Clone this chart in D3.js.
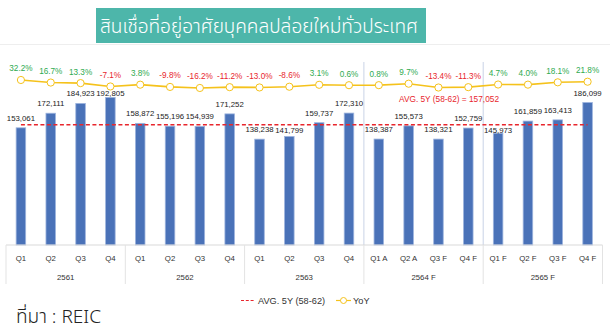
<!DOCTYPE html>
<html>
<head>
<meta charset="utf-8">
<script src="https://cdn.jsdelivr.net/npm/d3@7/dist/d3.min.js"></script>
<style>
  html, body { margin: 0; padding: 0; background: #fff; }
  svg { display: block; }
</style>
</head>
<body>
<svg id="chart" width="610" height="336"></svg>
<script>
// Quarterly new housing loans (million baht) and year-on-year growth
const quarters = ["Q1","Q2","Q3","Q4","Q1","Q2","Q3","Q4","Q1","Q2","Q3","Q4",
                  "Q1 A","Q2 A","Q3 F","Q4 F","Q1 F","Q2 F","Q3 F","Q4 F"];
const years = ["2561","2562","2563","2564 F","2565 F"];
const loans = [153061,172111,184923,192805,158872,155196,154939,171252,138238,141799,
               159737,172310,138387,155573,138321,152759,145973,161859,163413,186099];
const yoy = [32.2,16.7,13.3,-7.1,3.8,-9.8,-16.2,-11.2,-13.0,-8.6,
             3.1,0.6,0.8,9.7,-13.4,-11.3,4.7,4.0,18.1,21.8];
const avg5y = 157052;
const titleText = "สินเชื่อที่อยู่อาศัยบุคคลปล่อยใหม่ทั่วประเทศ";
const avgLabel = "AVG. 5Y (58-62)";
const sourceText = "ที่มา : REIC";

const W = 610, H = 336;
const svg = d3.select("#chart");
const numFont = "'Liberation Sans', Arial, sans-serif";
const thaiFont = "'Noto Sans Thai', 'Noto Sans', 'Open Sans', sans-serif";

const idx = d3.range(loans.length);
const x = d3.scaleBand().domain(idx).range([6, 602.5]).paddingInner(0.68).paddingOuter(0.34);
const cx = i => x(i) + x.bandwidth() / 2;
const y = d3.scaleLinear().domain([0, 250000]).range([245, 53.6]);
const yY = d3.scaleLinear().domain([-20, 40]).range([88.6, 78.7]);

// Title banner
svg.append("line").attr("x1", 0).attr("x2", W).attr("y1", 44.5).attr("y2", 44.5)
  .attr("stroke", "#eeeeee").attr("stroke-width", 1);
svg.append("rect").attr("x", 96).attr("y", 8).attr("width", 330).attr("height", 35)
  .attr("fill", "#4db6aa");
const title = svg.append("text").attr("x", 259).attr("y", 27).attr("text-anchor", "middle")
  .attr("dominant-baseline", "central")
  .attr("font-family", thaiFont).attr("font-size", 20).attr("font-weight", 300)
  .attr("fill", "#fff")
  .text(titleText);
// shrink the heading so it fits inside the banner
const tw = title.node().getComputedTextLength();
title.attr("font-size", 20 * 318 / tw);

// Group boundaries for the forecast years
const step = x.step();
const groupEdge = g => x.range()[0] + g * 4 * step;
[3, 4].forEach(g => {
  svg.append("line").attr("x1", groupEdge(g)).attr("x2", groupEdge(g))
    .attr("y1", 62).attr("y2", 245).attr("stroke", "#c9d3e6").attr("stroke-width", 1);
});

// Bars
svg.append("g").selectAll("rect").data(loans).join("rect")
  .attr("x", (d, i) => x(i)).attr("width", x.bandwidth())
  .attr("y", d => y(d)).attr("height", d => y(0) - y(d))
  .attr("fill", "#4a72b8").attr("stroke", "#9db4de").attr("stroke-width", 0.8);

// Bar value labels: sit above the bar, kept clear of the YoY row and the average line
const avgY = y(avg5y);
function labelY(d) {
  let ly = Math.max(y(d) - 9.5, 93.5);
  if (Math.abs(ly - avgY) < 4.5) ly = avgY + 5.5;
  return ly;
}
svg.append("g").selectAll("text").data(loans).join("text")
  .attr("x", (d, i) => cx(i)).attr("y", labelY)
  .attr("text-anchor", "middle").attr("dominant-baseline", "central")
  .attr("font-family", numFont).attr("font-size", 7.8).attr("fill", "#222")
  .text(d => d3.format(",")(d));

// 5-year average reference line
svg.append("line").attr("x1", cx(0)).attr("x2", cx(loans.length - 1))
  .attr("y1", avgY).attr("y2", avgY)
  .attr("stroke", "#e8262d").attr("stroke-width", 1.3).attr("stroke-dasharray", "4,2.5");
svg.append("text").attr("x", 449).attr("y", 98.5).attr("text-anchor", "middle")
  .attr("dominant-baseline", "central")
  .attr("font-family", numFont).attr("font-size", 8.3).attr("fill", "#e8262d")
  .text(`${avgLabel} =  ${d3.format(",")(avg5y)}`);

// YoY line with markers
const line = d3.line().x((d, i) => cx(i)).y(d => yY(d));
svg.append("path").datum(yoy).attr("d", line)
  .attr("fill", "none").attr("stroke", "#f5c21b").attr("stroke-width", 1.6);
svg.append("g").selectAll("circle").data(yoy).join("circle")
  .attr("cx", (d, i) => cx(i)).attr("cy", d => yY(d)).attr("r", 3.6)
  .attr("fill", "#fff").attr("stroke", "#f5c21b").attr("stroke-width", 1);
svg.append("g").selectAll("text").data(yoy).join("text")
  .attr("x", (d, i) => cx(i)).attr("y", d => yY(d) - 11)
  .attr("text-anchor", "middle").attr("dominant-baseline", "central")
  .attr("font-family", numFont).attr("font-size", 8.2)
  .attr("fill", d => d >= 0 ? "#2eaa4f" : "#e8262d")
  .text(d => d.toFixed(1) + "%");

// Category axis: quarter row, year row and separators
const axis = svg.append("g");
axis.append("line").attr("x1", x.range()[0]).attr("x2", x.range()[1])
  .attr("y1", 245).attr("y2", 245).attr("stroke", "#d9d9d9");
d3.range(0, 6).forEach(g => {
  axis.append("line").attr("x1", groupEdge(g)).attr("x2", groupEdge(g))
    .attr("y1", 245).attr("y2", 284).attr("stroke", "#e3e3e3");
});
axis.selectAll("text.q").data(quarters).join("text").attr("class", "q")
  .attr("x", (d, i) => cx(i)).attr("y", 258).attr("text-anchor", "middle")
  .attr("dominant-baseline", "central")
  .attr("font-family", numFont).attr("font-size", 7.8).attr("fill", "#333").text(d => d);
axis.selectAll("text.yr").data(years).join("text").attr("class", "yr")
  .attr("x", (d, g) => (groupEdge(g) + groupEdge(g + 1)) / 2).attr("y", 277)
  .attr("text-anchor", "middle").attr("dominant-baseline", "central")
  .attr("font-family", numFont).attr("font-size", 7.8).attr("fill", "#333").text(d => d);

// Legend
const lg = svg.append("g");
lg.append("line").attr("x1", 241).attr("x2", 255).attr("y1", 300.5).attr("y2", 300.5)
  .attr("stroke", "#e8262d").attr("stroke-width", 1.2).attr("stroke-dasharray", "3,1.8");
lg.append("text").attr("x", 258).attr("y", 300.7).attr("dominant-baseline", "central")
  .attr("font-family", numFont).attr("font-size", 9.2).attr("fill", "#333").text(avgLabel);
lg.append("line").attr("x1", 336).attr("x2", 351).attr("y1", 300.5).attr("y2", 300.5)
  .attr("stroke", "#f5c21b").attr("stroke-width", 1.2);
lg.append("circle").attr("cx", 343.5).attr("cy", 300.5).attr("r", 3)
  .attr("fill", "#fff").attr("stroke", "#f5c21b").attr("stroke-width", 1);
lg.append("text").attr("x", 353).attr("y", 300.7).attr("dominant-baseline", "central")
  .attr("font-family", numFont).attr("font-size", 9.2).attr("fill", "#333").text("YoY");

// Source note
svg.append("text").attr("x", 16).attr("y", 317.5).attr("dominant-baseline", "central")
  .attr("font-family", thaiFont).attr("font-size", 19).attr("font-weight", 300)
  .attr("fill", "#222")
  .text(sourceText);
</script>
</body>
</html>
